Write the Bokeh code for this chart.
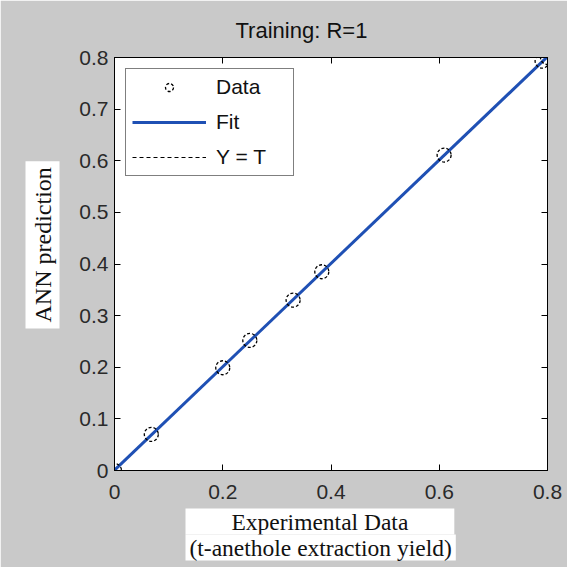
import numpy as np
from bokeh.plotting import figure
from bokeh.models import Range1d, LinearAxis, Legend, LegendItem, FixedTicker, ColumnDataSource, Title
from bokeh.embed import file_html
from bokeh.resources import INLINE

# Data
targets = [0.0, 0.068, 0.200, 0.250, 0.330, 0.383, 0.609, 0.790, 0.800]
outputs = [0.0, 0.070, 0.199, 0.252, 0.330, 0.385, 0.611, 0.793, 0.800]
y_tick_values = [0, 0.1, 0.2, 0.3, 0.4, 0.5, 0.6, 0.7, 0.8]
x_tick_values = [0, 0.2, 0.4, 0.6, 0.8]
title_text = "Training: R=1"
xlabel_lines = ["Experimental Data", "(t-anethole extraction yield)"]
ylabel_text = "ANN prediction"

BG = "#c9c9c9"
BLUE = "#1f50b4"
SANS = "Liberation Sans"
SERIF = "Liberation Serif"

p = figure(width=567, height=567, x_range=Range1d(0, 0.8), y_range=Range1d(0, 0.8),
           output_backend="svg", toolbar_location=None,
           min_border_left=114, min_border_right=20, min_border_top=57, min_border_bottom=97,
           background_fill_color="white", border_fill_color=BG)
p.xgrid.visible = False
p.ygrid.visible = False
p.outline_line_color = "black"
p.outline_line_width = 1

def style_axis(ax, ticks):
    ax.ticker = FixedTicker(ticks=ticks)
    ax.major_tick_in = 6
    ax.major_tick_out = 0
    ax.minor_tick_line_color = None
    ax.axis_line_color = "black"
    ax.major_tick_line_color = "black"
    ax.major_label_text_font = SANS
    ax.major_label_text_font_size = "21px"
    ax.major_label_text_color = "#2a2a2a"

def style_bare_axis(ax, ticks):
    # ticks only (as minor ticks, which carry no labels)
    ax.ticker = FixedTicker(ticks=[], minor_ticks=ticks)
    ax.minor_tick_in = 6
    ax.minor_tick_out = 0
    ax.minor_tick_line_color = "black"
    ax.major_tick_line_color = None
    ax.axis_line_color = "black"

style_axis(p.xaxis[0], x_tick_values)
p.xaxis[0].major_label_standoff = 14
style_axis(p.yaxis[0], y_tick_values)
p.yaxis[0].major_label_standoff = 6

right_ax = LinearAxis()
style_bare_axis(right_ax, y_tick_values)
p.add_layout(right_ax, "right")
top_ax = LinearAxis()
style_bare_axis(top_ax, x_tick_values)
p.add_layout(top_ax, "above")

src = ColumnDataSource(dict(t=targets, y=outputs))

# Y = T line and linear fit, derived from the data
t_arr = np.array(targets)
y_arr = np.array(outputs)
line_x = [t_arr.min(), t_arr.max()]
slope, intercept = np.polyfit(t_arr, y_arr, 1)
fit_y = [slope * v + intercept for v in line_x]

r_yt = p.line(line_x, line_x, line_color="black", line_width=1, line_dash="4 3")
r_fit = p.line(line_x, fit_y, line_color=BLUE, line_width=3)
r_data = p.scatter("t", "y", source=src, marker="circle", size=14, fill_color=None,
                   line_color="black", line_width=1.3, line_dash="3 2")

legend = Legend(items=[LegendItem(label="Data", renderers=[r_data]),
                       LegendItem(label="Fit", renderers=[r_fit]),
                       LegendItem(label="Y = T", renderers=[r_yt])],
                location="top_left", margin=11, padding=6, spacing=11,
                glyph_width=74, glyph_height=20, label_height=20, label_width=71, label_standoff=10,
                label_text_font=SANS, label_text_font_size="21px", label_text_color="#111111",
                border_line_color="black", border_line_width=1, background_fill_color="white",
                background_fill_alpha=1)
p.add_layout(legend, "center")

# Title
p.add_layout(Title(text=title_text, text_font=SANS, text_font_size="22px", text_font_style="normal",
                   text_color="#111111", align="left", offset=121, standoff=29), "above")

# x label: two lines sharing one white box
xl1 = Title(text=xlabel_lines[0], text_font=SERIF, text_font_size="23.5px", text_font_style="normal",
            text_color="#111111", align="left", offset=71, standoff=10, vertical_align="bottom",
            background_fill_color="white", padding=(46, 0))
xl2 = Title(text=xlabel_lines[1], text_font=SERIF, text_font_size="23.5px", text_font_style="normal",
            text_color="#111111", align="left", offset=71, standoff=0, vertical_align="top",
            background_fill_color="white", padding=(4, 0))
try:
    xl2.standoff = -10
except Exception:
    xl1.standoff = 6
    xl2.standoff = 0
p.add_layout(xl1, "below")
p.add_layout(xl2, "below")

# y label
p.add_layout(Title(text=ylabel_text, text_font=SERIF, text_font_size="24px", text_font_style="normal",
                   text_color="#111111", align="left", offset=142, standoff=34,
                   background_fill_color="white", padding=(6, 4)), "left")

open("out.html", "w").write(file_html(p, INLINE))
